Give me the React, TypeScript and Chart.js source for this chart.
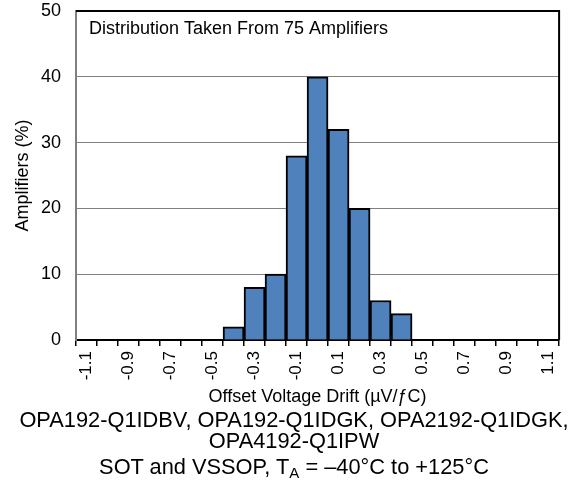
import React, { useEffect, useRef } from "react";
import { Chart, registerables } from "chart.js";
Chart.register(...registerables);

const categories: string[] = [
  "-1.1", "-1.0", "-0.9", "-0.8", "-0.7", "-0.6", "-0.5", "-0.4", "-0.3", "-0.2", "-0.1", "0.0",
  "0.1", "0.2", "0.3", "0.4", "0.5", "0.6", "0.7", "0.8", "0.9", "1.0", "1.1",
];
const percentages: number[] = [
  0, 0, 0, 0, 0, 0, 0, 2, 8, 10, 28, 40, 32, 20, 6, 4, 0, 0, 0, 0, 0, 0, 0,
];
const tickLabels: string[] = [
  "-1.1", "", "-0.9", "", "-0.7", "", "-0.5", "", "-0.3", "", "-0.1", "",
  "0.1", "", "0.3", "", "0.5", "", "0.7", "", "0.9", "", "1.1",
];
const yTicks: number[] = [0, 10, 20, 30, 40, 50];
const annotationText = "Distribution Taken From 75 Amplifiers";
const xTitle = "Offset Voltage Drift (\u00b5V/\u0192C)";
const yTitle = "Amplifiers (%)";

const FONT = "'Liberation Sans', Arial, sans-serif";

export default function App() {
  const ref = useRef<HTMLCanvasElement | null>(null);
  useEffect(() => {
    if (!ref.current) return;
    const framePlugin = {
      id: "frame",
      afterDatasetsDraw(chart: any) {
        const { ctx, chartArea: a } = chart;
        ctx.save();
        ctx.strokeStyle = "#000";
        ctx.lineWidth = 2;
        ctx.beginPath();
        ctx.moveTo(a.left, a.top);
        ctx.lineTo(a.right, a.top);
        ctx.lineTo(a.right, a.bottom);
        ctx.stroke();
        ctx.fillStyle = "#000";
        ctx.font = `18px ${FONT}`;
        ctx.textBaseline = "middle";
        ctx.textAlign = "left";
        ctx.fillText(annotationText, a.left + 13, a.top + 18);
        ctx.restore();
      },
    };
    const chart = new Chart(ref.current, {
      type: "bar",
      data: {
        labels: categories,
        datasets: [
          {
            data: percentages,
            backgroundColor: "#4F81BD",
            borderColor: "#000",
            borderWidth: 2,
            barPercentage: 1,
            categoryPercentage: 1,
          },
        ],
      },
      options: {
        animation: false,
        responsive: false,
        maintainAspectRatio: false,
        layout: { padding: { top: 0, right: 0, left: 0, bottom: 0 } },
        plugins: { legend: { display: false }, tooltip: { enabled: false } },
        scales: {
          x: {
            type: "category",
            offset: true,
            grid: {
              offset: true,
              drawOnChartArea: false,
              drawTicks: true,
              tickLength: 6,
              color: "#000",
              lineWidth: 1.5,
            },
            border: { color: "#000", width: 2 },
            ticks: {
              autoSkip: false,
              maxRotation: 90,
              minRotation: 90,
              padding: 5,
              color: "#000",
              font: { family: FONT, size: 17 },
              callback: (_v: any, i: number) => tickLabels[i],
            },
            title: {
              display: true,
              text: xTitle,
              color: "#000",
              font: { family: FONT, size: 18 },
              padding: { top: 0, bottom: 2 },
            },
            afterFit: (s: any) => {
              s.height = 70;
            },
          },
          y: {
            min: 0,
            max: 50,
            afterBuildTicks: (s: any) => {
              s.ticks = yTicks.map((v) => ({ value: v }));
            },
            grid: { color: "#808080", lineWidth: 1, drawTicks: false },
            border: { color: "#808080", width: 2 },
            ticks: {
              padding: 15,
              color: "#000",
              font: { family: FONT, size: 18, lineHeight: 1 },
            },
            title: {
              display: true,
              text: yTitle,
              color: "#000",
              font: { family: FONT, size: 18 },
              padding: { top: 12, bottom: 0 },
            },
            afterFit: (s: any) => {
              s.width = 76;
            },
          },
        },
      },
      plugins: [framePlugin],
    });
    return () => chart.destroy();
  }, []);

  const capStyle: React.CSSProperties = {
    position: "absolute",
    left: 0,
    width: 588,
    textAlign: "center",
    fontFamily: FONT,
    fontSize: 21.8,
    color: "#000",
    whiteSpace: "nowrap",
    lineHeight: "24px",
  };

  return (
    <div style={{ position: "fixed", left: 0, top: 0, width: 568, height: 489, background: "#fff", overflow: "hidden" }}>
      <canvas ref={ref} width={574} height={423} style={{ position: "absolute", left: 0, top: -13 }} />
      <div style={{ ...capStyle, top: 408 }}>OPA192-Q1IDBV, OPA192-Q1IDGK, OPA2192-Q1IDGK,</div>
      <div style={{ ...capStyle, top: 429 }}>OPA4192-Q1IPW</div>
      <div style={{ ...capStyle, top: 455 }}>
        SOT and VSSOP, T<sub style={{ fontSize: 15, verticalAlign: "-4px", lineHeight: 0 }}>A</sub> = &ndash;40&deg;C to +125&deg;C
      </div>
    </div>
  );
}
